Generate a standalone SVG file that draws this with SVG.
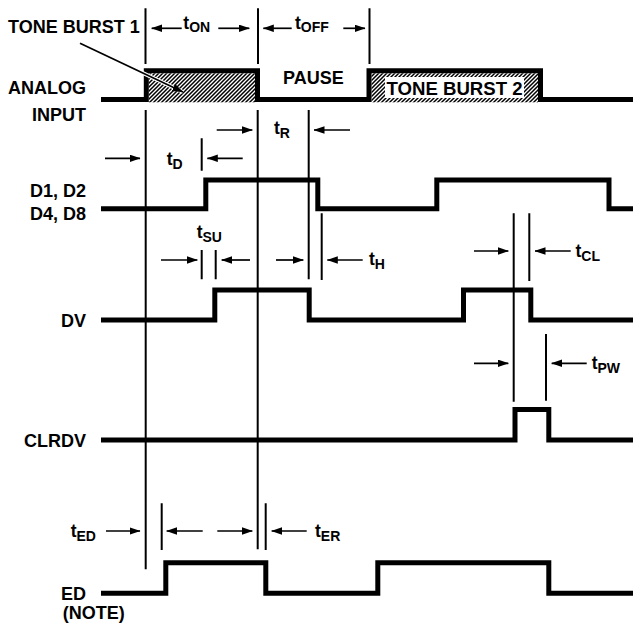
<svg xmlns="http://www.w3.org/2000/svg" width="633" height="625" viewBox="0 0 633 625">
<style>
.lbl{font-family:"Liberation Sans",Arial,sans-serif;font-weight:bold;font-size:18px;fill:#000}
.tl{font-family:"Liberation Sans",Arial,sans-serif;font-weight:bold;font-size:17.5px;fill:#000}
.sub{font-size:14px}
.wave{fill:none;stroke:#000;stroke-width:5;stroke-linejoin:miter}
.vl{stroke:#000;stroke-width:2;fill:none}
.arr{stroke:#000;stroke-width:1.7;fill:none;marker-end:url(#ah)}
</style>
<defs>
<marker id="ah" markerUnits="userSpaceOnUse" markerWidth="11" markerHeight="8" refX="10.5" refY="3.75" orient="auto">
<path d="M0,0 L11,3.75 L0,7.5 z" fill="#000"/>
</marker>
<pattern id="hatch" patternUnits="userSpaceOnUse" width="4" height="4">
<rect width="4" height="4" fill="#fff"/>
<path d="M-1,1 L1,-1 M0,4 L4,0 M3,5 L5,3" stroke="#000" stroke-width="1.5"/>
</pattern>
</defs>
<rect width="633" height="625" fill="#fff"/>

<g id="analog-input">
<rect x="148.8" y="73.3" width="106.2" height="29" fill="url(#hatch)"/>
<rect x="371.5" y="73.3" width="166.5" height="29" fill="url(#hatch)"/>
<rect x="385" y="77" width="139" height="21" fill="#fff"/>
<path class="wave" d="M101,99.5 H146.3 V70.8 H257.5 V99.5 H369 V70.8 H540.5 V99.5 H633"/>
<text class="lbl" x="86" y="94" text-anchor="end">ANALOG</text>
<text class="lbl" x="86" y="120.5" text-anchor="end">INPUT</text>
<text class="lbl" x="8" y="32.7">TONE BURST 1</text>
<text class="lbl" x="283" y="84">PAUSE</text>
<text class="lbl" x="386.5" y="94.5" style="font-size:18.6px">TONE BURST 2</text>
</g>

<g id="d-outputs">
<path class="wave" d="M101,208.8 H205.8 V180 H317.8 V208.8 H436.8 V180 H609 V208.8 H633"/>
<text class="lbl" x="86" y="197" text-anchor="end">D1, D2</text>
<text class="lbl" x="86" y="219.7" text-anchor="end">D4, D8</text>
</g>

<g id="dv">
<path class="wave" d="M101,320 H214.8 V290 H309.2 V320 H463.5 V290 H530.8 V320 H633"/>
<text class="lbl" x="86" y="327" text-anchor="end">DV</text>
</g>

<g id="clrdv">
<path class="wave" d="M101,440 H515 V409.5 H548.8 V440 H633"/>
<text class="lbl" x="86" y="446.5" text-anchor="end">CLRDV</text>
</g>

<g id="ed">
<path class="wave" d="M101,593.3 H165.8 V562.8 H265.8 V593.3 H377.8 V562.8 H548.8 V593.3 H633"/>
<text class="lbl" x="86" y="600" text-anchor="end">ED</text>
<text class="lbl" x="62.7" y="618.5">(NOTE)</text>
</g>

<g id="connectors">
<path class="vl" d="M145.5,8.3 V64 M145.7,110 V569.3 M258,8.3 V64 M257.7,110 V549.3 M369.5,8.3 V64 M308.7,110 V279.3 M321.7,213.3 V280 M201.7,138.3 V170.7 M201.7,250 V279.3 M215.7,250 V279.3 M513.7,213.3 V401.7 M529.3,213.3 V281 M546,334 V400.7 M161.7,503.3 V550 M265.7,503.3 V550"/>
<line x1="80" y1="43.3" x2="183" y2="92" stroke="#fff" stroke-width="4"/>
<line x1="80" y1="43.3" x2="183" y2="92" class="arr"/>
<line class="arr" x1="181.7" y1="28.3" x2="151.7" y2="28.3"/>
<line class="arr" x1="218.3" y1="28.3" x2="249.3" y2="28.3"/>
<line class="arr" x1="291.7" y1="28.3" x2="263.3" y2="28.3"/>
<line class="arr" x1="343.3" y1="28.3" x2="365" y2="28.3"/>
<line class="arr" x1="216.7" y1="130" x2="252.3" y2="130"/>
<line class="arr" x1="350" y1="130" x2="314" y2="130"/>
<line class="arr" x1="105" y1="158.3" x2="140" y2="158.3"/>
<line class="arr" x1="242.7" y1="158.3" x2="207.3" y2="158.3"/>
<line class="arr" x1="161" y1="260" x2="197.3" y2="260"/>
<line class="arr" x1="250" y1="260" x2="221.7" y2="260"/>
<line class="arr" x1="276" y1="260" x2="303.3" y2="260"/>
<line class="arr" x1="362.7" y1="260" x2="327.3" y2="260"/>
<line class="arr" x1="474" y1="251" x2="508.3" y2="251"/>
<line class="arr" x1="570.7" y1="251" x2="535" y2="251"/>
<line class="arr" x1="474" y1="363.3" x2="508.3" y2="363.3"/>
<line class="arr" x1="586.7" y1="363.3" x2="551.7" y2="363.3"/>
<line class="arr" x1="106" y1="531" x2="140" y2="531"/>
<line class="arr" x1="202.7" y1="531" x2="166.7" y2="531"/>
<line class="arr" x1="217.3" y1="531" x2="252.3" y2="531"/>
<line class="arr" x1="306.7" y1="531" x2="271.7" y2="531"/>
</g>

<g id="timing-labels">
<text class="tl" x="183.3" y="28.5">t<tspan class="sub" dy="3.5">ON</tspan></text>
<text class="tl" x="295" y="28.5">t<tspan class="sub" dy="3.5">OFF</tspan></text>
<text class="tl" x="274" y="134">t<tspan class="sub" dy="4">R</tspan></text>
<text class="tl" x="166.7" y="164.5">t<tspan class="sub" dy="4">D</tspan></text>
<text class="tl" x="196.7" y="237.5">t<tspan class="sub" dy="4">SU</tspan></text>
<text class="tl" x="369" y="264.5">t<tspan class="sub" dy="4">H</tspan></text>
<text class="tl" x="575.5" y="256.5">t<tspan class="sub" dy="4">CL</tspan></text>
<text class="tl" x="591.7" y="368.5">t<tspan class="sub" dy="4.5">PW</tspan></text>
<text class="tl" x="70.7" y="537">t<tspan class="sub" dy="4">ED</tspan></text>
<text class="tl" x="315" y="536.5">t<tspan class="sub" dy="4.5">ER</tspan></text>
</g>
</svg>
